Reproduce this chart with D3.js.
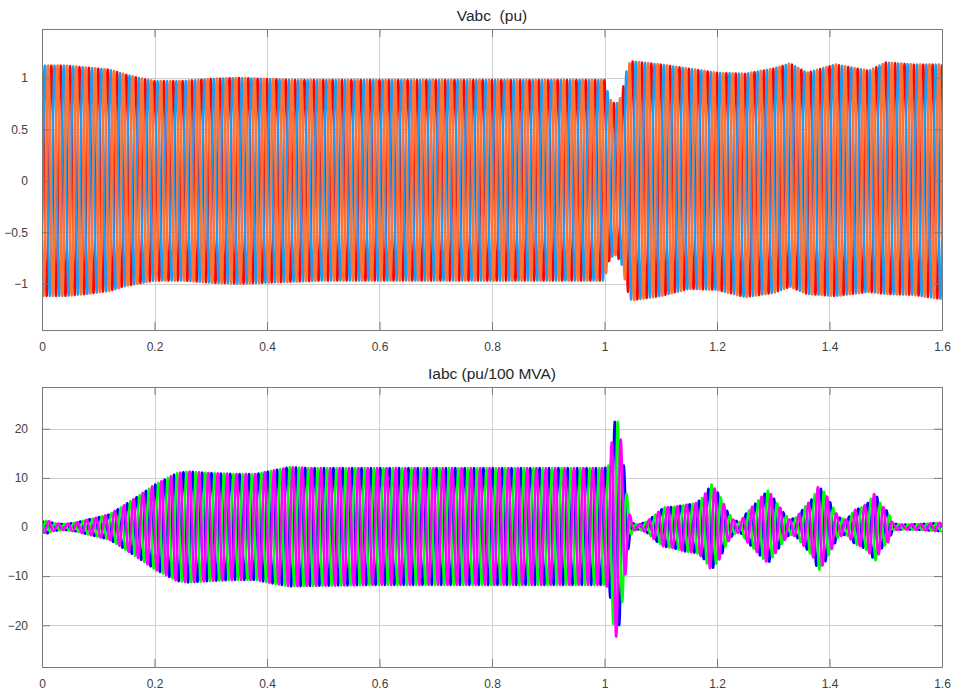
<!DOCTYPE html>
<html>
<head>
<meta charset="utf-8">
<script src="https://cdn.jsdelivr.net/npm/d3@7"></script>
<style>
  html, body { margin: 0; padding: 0; background: #fff; }
  svg { display: block; font-family: "Liberation Sans", Arial, Helvetica, sans-serif; }
</style>
</head>
<body>
<svg id="chart" width="959" height="691"></svg>
<script>
// ---- Data -------------------------------------------------------------
// Fundamental frequency of the three-phase system (Hz)
const freq = 60;
const tStart = 0, tEnd = 1.6;

// Axis ticks
const xTicks = [0, 0.2, 0.4, 0.6, 0.8, 1, 1.2, 1.4, 1.6];
const vTicks = [-1, -0.5, 0, 0.5, 1];
const iTicks = [-20, -10, 0, 10, 20];

// Phases in drawing order, with their angle offsets (degrees)
const vPhases = ["Va", "Vb", "Vc"];
const vPhaseDeg = [90, -30, 210];
const iPhases = ["Ia", "Ib", "Ic"];
const iPhaseDeg = [60, -60, 180];

// Voltage envelope (pu): time knots, positive peak, negative peak
const vEnvTime  = [0, 0.04, 0.08, 0.12, 0.15, 0.18, 0.2, 0.25, 0.3, 0.35, 0.4, 0.45, 0.5, 0.7, 0.9, 1.0, 1.004, 1.01, 1.02, 1.03, 1.038, 1.045, 1.05, 1.1, 1.15, 1.2, 1.25, 1.3, 1.33, 1.36, 1.41, 1.47, 1.5, 1.55, 1.6];
const vEnvUpper = [1.12, 1.12, 1.10, 1.08, 1.03, 0.99, 0.97, 0.97, 0.99, 1.00, 0.99, 0.98, 0.98, 0.98, 0.98, 0.98, 0.90, 0.79, 0.74, 0.82, 1.05, 1.15, 1.16, 1.13, 1.09, 1.05, 1.04, 1.09, 1.14, 1.05, 1.13, 1.07, 1.15, 1.13, 1.13];
const vEnvLower = [-1.12, -1.12, -1.10, -1.07, -1.02, -0.99, -0.97, -0.97, -0.99, -1.00, -0.99, -0.98, -0.97, -0.97, -0.97, -0.97, -0.86, -0.75, -0.72, -0.80, -1.00, -1.15, -1.16, -1.12, -1.05, -1.06, -1.13, -1.09, -1.03, -1.10, -1.12, -1.08, -1.10, -1.11, -1.15];

// Current envelope (pu/100 MVA): time knots, positive peak, negative peak
const iEnvTime  = [0, 0.01, 0.02, 0.04, 0.06, 0.08, 0.1, 0.12, 0.14, 0.16, 0.18, 0.2, 0.22, 0.24, 0.26, 0.3, 0.34, 0.38, 0.41, 0.44, 0.48, 0.6, 0.8, 1.0, 1.008, 1.015, 1.02, 1.025, 1.03, 1.035, 1.04, 1.045, 1.05, 1.06, 1.075, 1.093, 1.105, 1.122, 1.143, 1.164, 1.175, 1.19, 1.205, 1.217, 1.229, 1.241, 1.253, 1.27, 1.282, 1.291, 1.306, 1.318, 1.329, 1.341, 1.359, 1.371, 1.38, 1.392, 1.404, 1.416, 1.43, 1.445, 1.457, 1.469, 1.481, 1.492, 1.504, 1.513, 1.53, 1.56, 1.6];
const iEnvUpper = [1.1, 1.3, 0.8, 0.6, 0.9, 1.5, 2.0, 2.6, 4.0, 5.5, 7.0, 8.6, 9.8, 11.0, 11.3, 11.0, 10.8, 10.8, 11.5, 12.2, 12.0, 12.0, 12.0, 12.0, 12.6, 19.5, 22.6, 21.0, 17.0, 12.0, 6.5, 2.5, 0.8, 0.5, 1.1, 2.8, 4.0, 4.1, 4.5, 4.9, 6.1, 8.7, 6.5, 3.5, 1.5, 1.0, 3.0, 5.0, 6.5, 7.5, 5.0, 3.0, 1.5, 2.0, 4.5, 6.0, 8.3, 7.0, 4.5, 2.0, 1.5, 3.5, 4.0, 5.0, 7.0, 4.5, 3.1, 0.7, 0.5, 0.6, 0.9];
const iEnvLower = [-1.1, -1.3, -0.8, -0.6, -0.9, -1.5, -2.0, -2.6, -4.0, -5.5, -7.0, -8.6, -9.8, -11.0, -11.3, -11.0, -10.8, -10.8, -11.5, -12.1, -12.0, -11.8, -11.8, -11.8, -12.4, -19.5, -22.6, -21.0, -17.0, -12.0, -6.5, -2.5, -0.8, -0.5, -1.1, -3.0, -4.0, -4.3, -5.0, -5.3, -6.3, -8.8, -6.5, -3.5, -1.5, -1.0, -3.0, -5.0, -6.5, -7.4, -5.0, -3.0, -1.5, -2.0, -4.5, -6.2, -9.0, -7.2, -4.5, -2.0, -1.5, -3.5, -4.0, -5.0, -7.0, -4.5, -3.1, -0.7, -0.5, -0.6, -0.9];

// ---- Styling ----------------------------------------------------------
const vColors = ["#ff0000", "#1b9cf6", "#ff7433"];
const vWidths = [2.3, 2.3, 2.6];
const iColors = ["#0000ff", "#00ff00", "#ff00ff"];
const iWidths = [2.3, 2.3, 2.5];

const svg = d3.select("#chart");
const plotX0 = 42, plotX1 = 942;

const panels = [
  { title: "Vabc  (pu)", y0: 29, y1: 330, domain: [-1.45, 1.475], ticks: vTicks,
    env: [vEnvTime, vEnvUpper, vEnvLower], phases: vPhases, deg: vPhaseDeg, colors: vColors, widths: vWidths },
  { title: "Iabc (pu/100 MVA)", y0: 387, y1: 667, domain: [-28.5, 28.5], ticks: iTicks,
    env: [iEnvTime, iEnvUpper, iEnvLower], phases: iPhases, deg: iPhaseDeg, colors: iColors, widths: iWidths }
];

// Sample the waveform of one phase from its envelope knots
function phaseSamples(env, deg) {
  const [tk, up, lo] = env;
  const upper = d3.scaleLinear().domain(tk).range(up).clamp(true);
  const lower = d3.scaleLinear().domain(tk).range(lo).clamp(true);
  const n = Math.round((tEnd - tStart) * freq * 60);
  const pts = [];
  for (let k = 0; k <= n; k++) {
    const t = tStart + (tEnd - tStart) * k / n;
    const s = Math.sin(2 * Math.PI * freq * t + deg * Math.PI / 180);
    pts.push([t, s >= 0 ? s * upper(t) : -s * lower(t)]);
  }
  return pts;
}

panels.forEach((p, pi) => {
  const x = d3.scaleLinear().domain([tStart, tEnd]).range([plotX0, plotX1]);
  const y = d3.scaleLinear().domain(p.domain).range([p.y1, p.y0]);
  const g = svg.append("g").attr("class", "panel-" + pi);

  const clipId = "clip" + pi;
  svg.append("clipPath").attr("id", clipId)
    .append("rect").attr("x", plotX0).attr("y", p.y0)
    .attr("width", plotX1 - plotX0).attr("height", p.y1 - p.y0);

  // grid
  const grid = g.append("g").attr("stroke", "#cfcfcf").attr("stroke-width", 1);
  xTicks.forEach(v => grid.append("line")
    .attr("x1", Math.round(x(v)) + 0.5).attr("x2", Math.round(x(v)) + 0.5)
    .attr("y1", p.y0).attr("y2", p.y1));
  p.ticks.forEach(v => grid.append("line")
    .attr("x1", plotX0).attr("x2", plotX1)
    .attr("y1", Math.round(y(v)) + 0.5).attr("y2", Math.round(y(v)) + 0.5));

  // waveforms
  const line = d3.line().x(d => x(d[0])).y(d => y(d[1]));
  const wg = g.append("g").attr("clip-path", `url(#${clipId})`);
  p.phases.forEach((name, k) => {
    wg.append("path")
      .attr("class", "phase " + name)
      .datum(phaseSamples(p.env, p.deg[k]))
      .attr("fill", "none")
      .attr("stroke", p.colors[k])
      .attr("stroke-width", p.widths[k])
      .attr("stroke-linejoin", "round")
      .attr("d", line);
  });

  // axes (ticks inside, box around)
  const axBottom = d3.axisBottom(x).tickValues(xTicks).tickSize(-8).tickPadding(12)
    .tickFormat(d3.format("~g"));
  const axLeft = d3.axisLeft(y).tickValues(p.ticks).tickSize(-8).tickPadding(14)
    .tickFormat(d3.format("~g"));
  const axTop = d3.axisTop(x).tickValues(xTicks).tickSize(-8).tickFormat("");
  const axRight = d3.axisRight(y).tickValues(p.ticks).tickSize(-8).tickFormat("");

  const styleAxis = sel => {
    sel.select(".domain").attr("stroke", "#7a7a7a");
    sel.selectAll(".tick line").attr("stroke", "#7a7a7a");
    sel.selectAll(".tick text").attr("fill", "#404040").attr("font-size", 12);
  };
  g.append("g").attr("transform", `translate(0,${p.y1})`).call(axBottom).call(styleAxis);
  g.append("g").attr("transform", `translate(${plotX0},0)`).call(axLeft).call(styleAxis);
  g.append("g").attr("transform", `translate(0,${p.y0})`).call(axTop).call(styleAxis);
  g.append("g").attr("transform", `translate(${plotX1},0)`).call(axRight).call(styleAxis);
  g.selectAll(".domain").attr("fill", "none");

  // title
  g.append("text")
    .attr("x", (plotX0 + plotX1) / 2)
    .attr("y", p.y0 - 8)
    .attr("text-anchor", "middle")
    .attr("fill", "#262626")
    .attr("font-size", 15.5)
    .attr("xml:space", "preserve")
    .style("white-space", "pre")
    .text(p.title);
});
</script>
</body>
</html>
